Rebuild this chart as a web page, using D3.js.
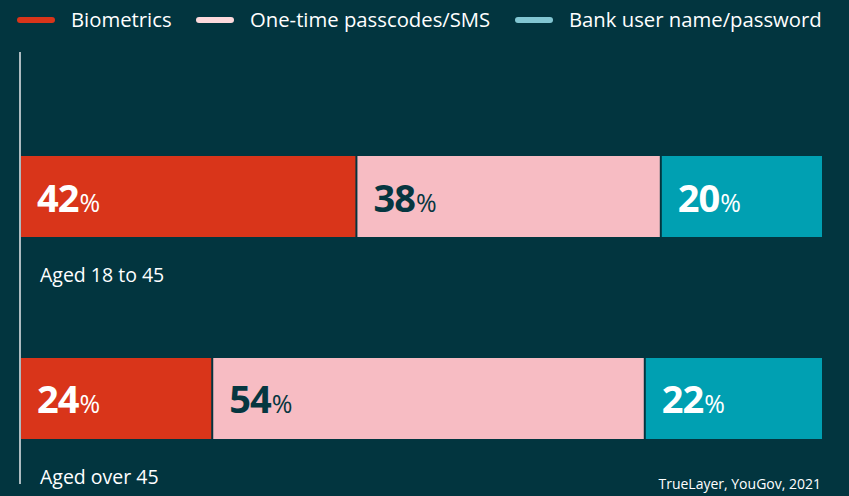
<!DOCTYPE html>
<html>
<head>
<meta charset="utf-8">
<script src="https://cdn.jsdelivr.net/npm/d3@7"></script>
<style>
  html, body { margin: 0; padding: 0; background: #02353f; }
  svg { display: block; font-family: "Open Sans", Lato, sans-serif; }
</style>
</head>
<body>
<svg id="chart" width="849" height="496"></svg>
<script>
// Preferred authentication method, by age group (% of respondents)
const groups = ["Aged 18 to 45", "Aged over 45"];
const methods = ["Biometrics", "One-time passcodes/SMS", "Bank user name/password"];
const biometrics = [42, 24];
const passcodes = [38, 54];
const bankLogin = [20, 22];
const source = "TrueLayer, YouGov, 2021";

const barColors = ["#d9351a", "#f7bcc3", "#00a0b2"];
const swatchColors = ["#d9351a", "#fcd9dc", "#82c6d2"];
const labelColors = ["#ffffff", "#063640", "#ffffff"];
const bg = "#02353f";

const svg = d3.select("#chart");
const W = 849, H = 496;
svg.append("rect").attr("width", W).attr("height", H).attr("fill", bg);

const x = d3.scaleLinear().domain([0, 100]).range([21, 822]);
const y = d3.scaleBand().domain(groups).range([156, 439]).paddingInner(0.599).paddingOuter(0);

// Stack series per group
const rows = groups.map((g, i) => {
  const vals = [biometrics[i], passcodes[i], bankLogin[i]];
  let acc = 0;
  return { group: g, segs: vals.map((v, k) => { const s = { k, v, x0: acc, x1: acc + v }; acc += v; return s; }) };
});

// Vertical baseline
svg.append("line")
  .attr("x1", 20).attr("x2", 20)
  .attr("y1", 52).attr("y2", 484)
  .attr("stroke", "#d9dfe1").attr("stroke-width", 1.6);

const bandH = y.bandwidth();
const g = svg.selectAll("g.row").data(rows).join("g").attr("class", "row")
  .attr("transform", d => `translate(0,${y(d.group)})`);

g.selectAll("rect").data(d => d.segs).join("rect")
  .attr("x", s => x(s.x0))
  .attr("y", 0)
  .attr("width", s => x(s.x1) - x(s.x0) - (s.k < 2 ? 2 : 0))
  .attr("height", bandH)
  .attr("fill", s => barColors[s.k]);

const lab = g.selectAll("text.val").data(d => d.segs).join("text").attr("class", "val")
  .attr("x", s => x(s.x0) + 16)
  .attr("y", bandH / 2 + 15)
  .attr("fill", s => labelColors[s.k]);
lab.append("tspan").attr("font-size", 38).attr("font-weight", 700).attr("letter-spacing", -1).text(s => s.v);
lab.append("tspan").attr("font-size", 25).attr("font-weight", 400).attr("dx", 1).text("%");

g.append("text")
  .attr("x", 40).attr("y", bandH + 45)
  .attr("fill", "#ffffff").attr("font-size", 19.5)
  .text(d => d.group);

// Legend
const legendX = [17, 196, 515];
const leg = svg.selectAll("g.leg").data(methods).join("g").attr("class", "leg")
  .attr("transform", (d, i) => `translate(${legendX[i]},20)`);
leg.append("line").attr("x1", 3).attr("x2", 35).attr("y1", 0).attr("y2", 0)
  .attr("stroke", (d, i) => swatchColors[i]).attr("stroke-width", 6).attr("stroke-linecap", "round");
leg.append("text").attr("x", 54).attr("y", 7)
  .attr("fill", "#ffffff").attr("font-size", 20.3).text(d => d);

svg.append("text")
  .attr("x", 821).attr("y", 489)
  .attr("text-anchor", "end")
  .attr("fill", "#ffffff").attr("font-size", 14)
  .text(source);
</script>
</body>
</html>
